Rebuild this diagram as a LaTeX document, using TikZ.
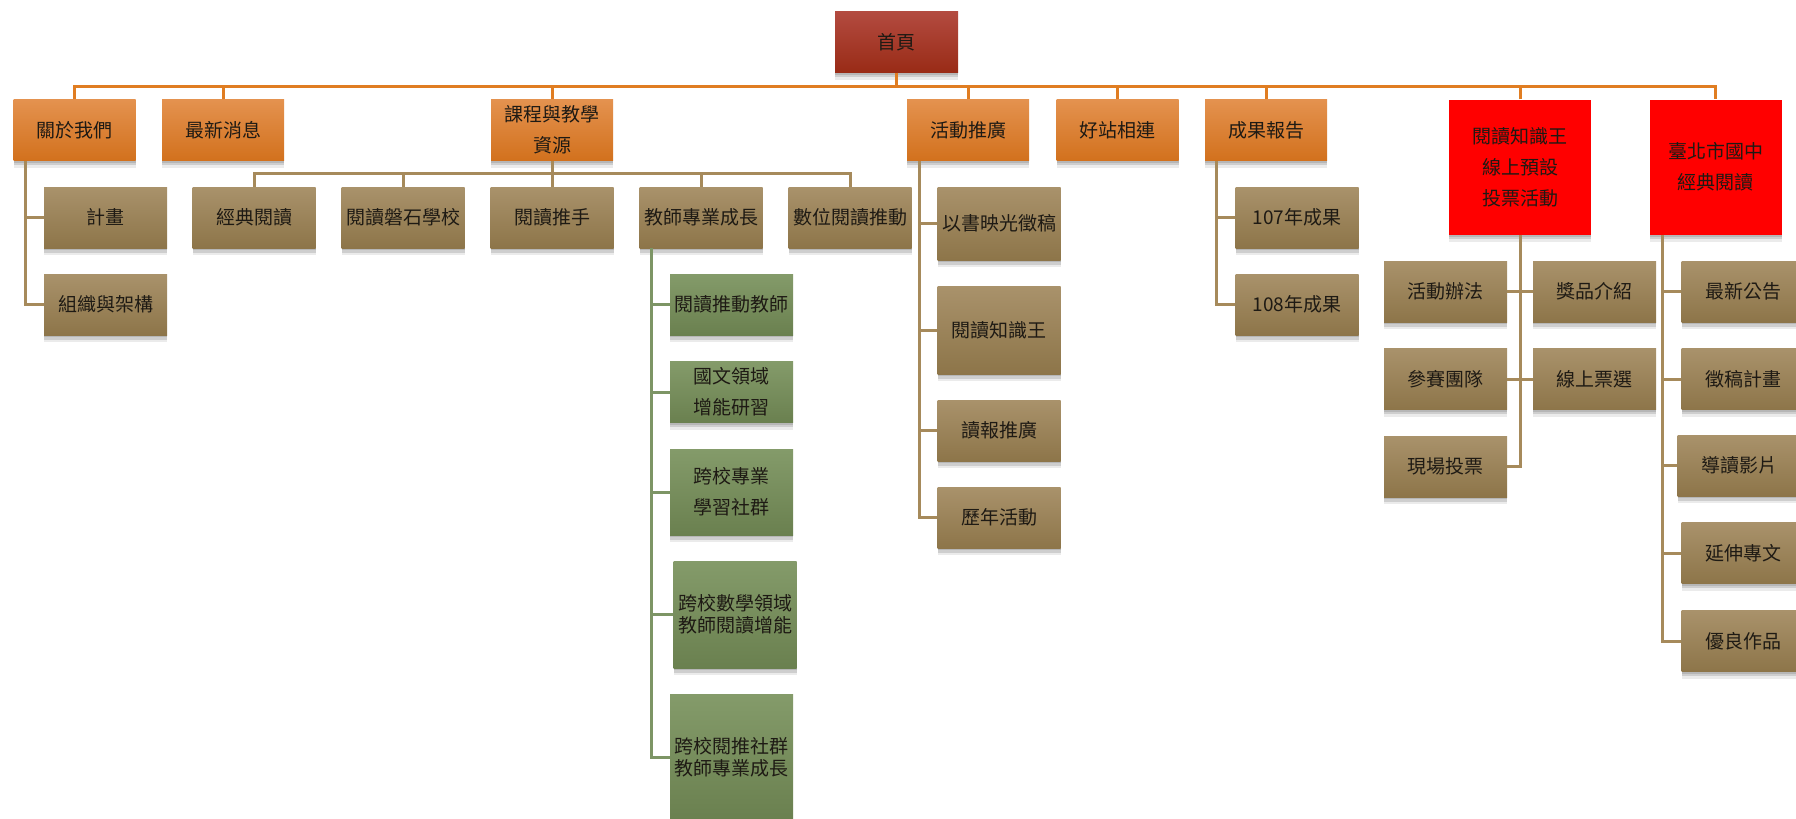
\documentclass[tikz,border=0pt]{standalone}
\usepackage{fontspec}
\setmainfont{Noto Sans CJK TC}
\usetikzlibrary{shadows}
\definecolor{orTop}{HTML}{E4924F}
\definecolor{orBot}{HTML}{D2711D}
\definecolor{hmTop}{HTML}{B34B40}
\definecolor{hmBot}{HTML}{992B16}
\definecolor{tnTop}{HTML}{A9926B}
\definecolor{tnBot}{HTML}{8D7549}
\definecolor{grTop}{HTML}{849B6A}
\definecolor{grBot}{HTML}{6A804F}
\definecolor{orLine}{HTML}{E07D22}
\definecolor{tnLine}{HTML}{A68A5B}
\definecolor{grLine}{HTML}{7D9565}
\definecolor{txt}{HTML}{1E1A14}
\tikzset{
  base/.style={rectangle, inner sep=0pt, align=center, text=txt,
    font=\fontsize{19}{31}\selectfont,
    drop shadow={shadow xshift=0pt, shadow yshift=-2pt, opacity=0.12, fill=black},
    drop shadow={shadow xshift=0pt, shadow yshift=-4.5pt, opacity=0.12, fill=black},
    drop shadow={shadow xshift=0pt, shadow yshift=-7pt, opacity=0.08, fill=black}},
  tight/.style={font=\fontsize{19}{22}\selectfont},
  homebox/.style={base, top color=hmTop, bottom color=hmBot, minimum width=123pt, minimum height=61pt},
  orbox/.style={base, top color=orTop, bottom color=orBot, minimum width=122pt, minimum height=61pt},
  redbox/.style={base, fill=red, minimum height=135pt},
  tnbox/.style={base, top color=tnTop, bottom color=tnBot, minimum width=123pt, minimum height=61pt},
  grbox/.style={base, top color=grTop, bottom color=grBot, minimum width=123pt, minimum height=61pt},
  oline/.style={draw=orLine, line width=3pt},
  tline/.style={draw=tnLine, line width=3pt},
  gline/.style={draw=grLine, line width=3pt},
}
\begin{document}
\begin{tikzpicture}[x=1pt, y=-1pt]
\useasboundingbox (0,0) rectangle (1796,819);
% root
\node[homebox] (home) at (896.5,42) {首頁};
% level 1
\node[orbox] (a1) at (74.5,130) {關於我們};
\node[orbox] (a2) at (223,130) {最新消息};
\node[orbox] (a3) at (552,130) {課程與教學\\資源};
\node[orbox] (a4) at (968,130) {活動推廣};
\node[orbox] (a5) at (1117.5,130) {好站相連};
\node[orbox] (a6) at (1266,130) {成果報告};
\node[redbox, minimum width=142pt] (a7) at (1520,167) {閱讀知識王\\線上預設\\投票活動};
\node[redbox, minimum width=132pt] (a8) at (1715.5,167) {臺北市國中\\經典閱讀};
% under a1
\node[tnbox] (b1) at (105.5,217.5) {計畫};
\node[tnbox] (b2) at (105.5,304.5) {組織與架構};
% under a3
\node[tnbox] (c1) at (254,217.5) {經典閱讀};
\node[tnbox] (c2) at (403,217.5) {閱讀磐石學校};
\node[tnbox] (c3) at (552,217.5) {閱讀推手};
\node[tnbox] (c4) at (701,217.5) {教師專業成長};
\node[tnbox] (c5) at (850,217.5) {數位閱讀推動};
% under c4
\node[grbox] (d1) at (731.5,304.5) {閱讀推動教師};
\node[grbox] (d2) at (731.5,392) {國文領域\\增能研習};
\node[grbox, minimum height=86pt] (d3) at (731.5,492) {跨校專業\\學習社群};
\node[grbox, tight, minimum height=107pt] (d4) at (735,614.5) {跨校數學領域\\教師閱讀增能};
\node[grbox, tight, minimum height=126pt] (d5) at (731.5,757) {跨校閱推社群\\教師專業成長};
% under a4
\node[tnbox, minimum height=73pt] (e1) at (999,223.5) {以書映光徵稿};
\node[tnbox, minimum height=88pt] (e2) at (999,330) {閱讀知識王};
\node[tnbox] (e3) at (999,430.7) {讀報推廣};
\node[tnbox] (e4) at (999,517.7) {歷年活動};
% under a6
\node[tnbox] (f1) at (1297,217.5) {107年成果};
\node[tnbox] (f2) at (1297,304.5) {108年成果};
% under a7
\node[tnbox] (g1) at (1445.5,291.5) {活動辦法};
\node[tnbox] (g2) at (1594.5,291.5) {獎品介紹};
\node[tnbox] (g3) at (1445.5,379) {參賽團隊};
\node[tnbox] (g4) at (1594.5,379) {線上票選};
\node[tnbox] (g5) at (1445.5,466.5) {現場投票};
% under a8
\node[tnbox] (h1) at (1743,291.5) {最新公告};
\node[tnbox] (h2) at (1743,379) {徵稿計畫};
\node[tnbox] (h3) at (1739,465.5) {導讀影片};
\node[tnbox] (h4) at (1743,553) {延伸專文};
\node[tnbox] (h5) at (1743,641) {優良作品};

% top bus
\coordinate (busy) at (0,86);
\draw[oline] (home.south) -- (home.south |- busy);
\draw[oline] (a1.north) -- (a1.north |- busy) -- (a8.north |- busy) -- (a8.north);
\foreach \n in {a2,a3,a4,a5,a6,a7}{\draw[oline] (\n.north) -- (\n.north |- busy);}

% course bus
\coordinate (cbus) at (0,173.3);
\draw[tline] (a3.south) -- (a3.south |- cbus);
\draw[tline] (c1.north) -- (c1.north |- cbus) -- (c5.north |- cbus) -- (c5.north);
\foreach \n in {c2,c3,c4}{\draw[tline] (\n.north) -- (\n.north |- cbus);}

% a1 children
\coordinate (a1l) at ([xshift=12.5pt]a1.south west);
\draw[tline] (a1l) |- (b2.west);
\draw[tline] (a1l |- b1.west) -- (b1.west);

% c4 children
\coordinate (c4l) at ([xshift=12.5pt]c4.south west);
\draw[gline] (c4l) |- (d5.west);
\foreach \n in {d1,d2,d3,d4}{\draw[gline] (c4l |- \n.west) -- (\n.west);}

% a4 children
\coordinate (a4l) at ([xshift=13pt]a4.south west);
\draw[tline] (a4l) |- (e4.west);
\foreach \n in {e1,e2,e3}{\draw[tline] (a4l |- \n.west) -- (\n.west);}

% a6 children
\coordinate (a6l) at ([xshift=12pt]a6.south west);
\draw[tline] (a6l) |- (f2.west);
\draw[tline] (a6l |- f1.west) -- (f1.west);

% a7 children
\draw[tline] (a7.south) |- (g5.east);
\draw[tline] (g1.east) -- (g2.west);
\draw[tline] (g3.east) -- (g4.west);

% a8 children
\coordinate (a8l) at ([xshift=13pt]a8.south west);
\draw[tline] (a8l) |- (h5.west);
\foreach \n in {h1,h2,h3,h4}{\draw[tline] (a8l |- \n.west) -- (\n.west);}
\end{tikzpicture}
\end{document}
